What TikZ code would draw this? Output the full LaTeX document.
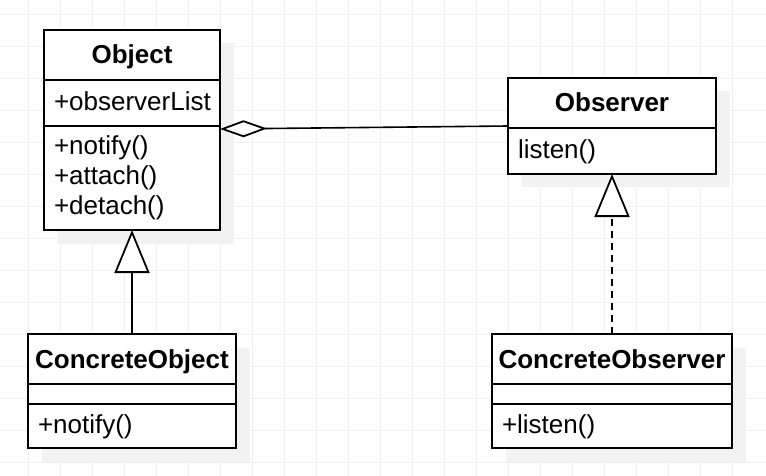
\documentclass[tikz,border=0pt]{standalone}
\usepackage{fontspec}
\setmainfont{Liberation Sans}
\usetikzlibrary{positioning,shadows,arrows.meta}

\tikzset{
  every node/.style={font=\fontsize{26pt}{30pt}\selectfont},
  box/.style={draw,line width=2pt,fill=white,outer sep=0pt,
    drop shadow={shadow xshift=14pt,shadow yshift=-13.5pt,fill=black!5,opacity=1}},
  classhead/.style={box,minimum width=#1,minimum height=50pt,inner sep=0pt,
    text height=22pt,text depth=4pt,font=\fontsize{26pt}{30pt}\selectfont\bfseries},
  compart/.style={box,text width=#1,inner xsep=10pt,inner ysep=2pt,align=left},
  member/.style={compart=#1,text height=20pt,text depth=5pt},
  gridline/.style={draw=black!6,line width=1pt},
  hollow/.style={-{Triangle[open,length=43pt,width=35pt,fill=white,line width=1.8pt]}},
}

\begin{document}
\begin{tikzpicture}[x=1pt,y=-1pt,line width=1.6pt]
\useasboundingbox (0,0) rectangle (766,476);
\fill[white] (0,0) rectangle (766,476);
\foreach \i in {0,...,22} \draw[gridline] (28.5+32*\i,0) -- (28.5+32*\i,476);
\foreach \j in {0,...,14} \draw[gridline] (0,14.5+32*\j) -- (766,14.5+32*\j);

% subject
\node[classhead=176pt]	(obj_head)	at (132,55)		{Object};
\node[member=156pt,minimum height=46pt]	(obj_attr)	[below=0pt of obj_head]	{+observerList};
\node[compart=156pt,minimum height=104pt]	(obj_ops)	[below=0pt of obj_attr]	{+notify()\\+attach()\\+detach()};

% observer interface
\node[classhead=208pt]	(obs_head)	at (612,103)	{Observer};
\node[member=188pt,minimum height=46pt]	(obs_ops)	[below=0pt of obs_head]	{listen()};

% concrete classes
\node[classhead=208pt]	(cobj_head)	at (132,359)	{ConcreteObject};
\node[compart=188pt,minimum height=20pt]	(cobj_attr)	[below=0pt of cobj_head]	{};
\node[member=188pt,minimum height=44pt]	(cobj_ops)	[below=0pt of cobj_attr]	{+notify()};

\node[classhead=240pt]	(cobs_head)	at (612,359)	{ConcreteObserver};
\node[compart=220pt,minimum height=20pt]	(cobs_attr)	[below=0pt of cobs_head]	{};
\node[member=220pt,minimum height=44pt]	(cobs_ops)	[below=0pt of cobs_attr]	{+listen()};

% relations
\draw[{Diamond[open,length=47pt,width=17pt,fill=white,line width=1.8pt]}-]
	([yshift=-3pt]obj_ops.north east) -- ([yshift=2pt]obs_head.south west);
\draw[hollow]	(cobj_head.north) -- (obj_ops.south);
\draw[hollow,dash pattern=on 7pt off 5pt]	(cobs_head.north) -- (obs_ops.south);
\end{tikzpicture}
\end{document}
